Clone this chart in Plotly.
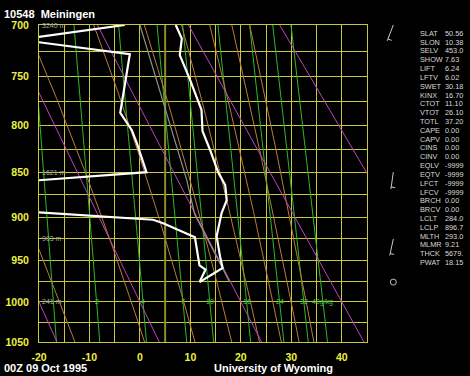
import numpy as np
import plotly.graph_objects as go

# ---------------- data ----------------
station_title = "10548\u00a0\u00a0Meiningen"
time_label = "00Z 09 Oct 1995"
source_label = "University of Wyoming"

temp_p = [700, 713, 729, 753, 784, 806, 826, 850, 864, 881, 895, 922, 946, 959, 976]
temp_t = [7.1, 8.3, 7.9, 9.9, 12.2, 12.4, 13.9, 15.5, 16.9, 17.2, 16.2, 15.2, 15.9, 16.4, 11.8]

dewp_p = [700, 714, 728, 751, 774, 787, 805, 819, 850, 878, 903, 907, 923, 956, 961, 976]
dewp_t = [-3.0, -24.0, -2.0, -2.8, -3.6, -3.9, -1.6, -0.6, 1.3, -66.0, 2.6, 4.6, 10.9, 11.8, 13.0, 11.8]

parcel_p = [976, 896.7, 859, 800, 750, 700]
parcel_t = [17.8, 10.85, 9.3, 6.0, 3.0, 0.0]

pres_ticks = [700, 750, 800, 850, 900, 950, 1000, 1050]
temp_ticks = [-20, -10, 0, 10, 20, 30, 40]

dry_theta_c = [-20, 0, 20, 40, 60]
moist_theta_e = [260, 280, 300, 320, 340, 360, 380, 400]
mix_ratios = [1, 2, 4, 7, 10, 16, 24, 32, 40]
mix_labels = ["", "2", "4", "7", "10", "16", "24", "32", "40g/kg"]

height_p = [700, 850, 925, 1000]
height_m = ["3240 m", "1621 m", "903 m", "241 m"]

wind_p = [700, 850, 925]
wind_dir = [201, 188, 192]
wind_kt = [5, 5, 5]
calm_p = [976]

stat_names = ["SLAT", "SLON", "SELV", "SHOW", "LIFT", "LFTV", "SWET", "KINX", "CTOT",
              "VTOT", "TOTL", "CAPE", "CAPV", "CINS", "CINV", "EQLV", "EQTV", "LFCT",
              "LFCV", "BRCH", "BRCV", "LCLT", "LCLP", "MLTH", "MLMR", "THCK", "PWAT"]
stat_values = ["50.56", "10.38", "453.0", "7.63", "6.24", "6.02", "30.18", "16.70", "11.10",
               "26.10", "37.20", "0.00", "0.00", "0.00", "0.00", "-9999", "-9999", "-9999",
               "-9999", "0.00", "0.00", "284.0", "896.7", "293.0", "9.21", "5679.", "18.15"]

# ---------------- helpers ----------------
KAPPA = 0.286
def sp(p):
    return np.power(np.asarray(p, dtype=float), KAPPA)

W, H = 470, 376
ML, MR, MT, MB = 39, 0, 25, 34
PW, PH = W - ML - MR, H - MT - MB
def xpaper(px):
    return (px - ML) / PW
def ypaper(py):
    return 1 - (py - MT) / PH

S_TOP, S_BOT = float(sp(700)), float(sp(1050))
S_PER_PX = (S_BOT - S_TOP) / PH

GRID = "#c8c83c"
TICKC = "#f0f040"
GREEN = "#2cb82c"
BROWN = "#b87c3c"
MAGENTA = "#c040c8"
FONT = "Liberation Sans, Arial, sans-serif"

pgrid = np.linspace(700, 1050, 141)

def esat(tk):
    return 6.112 * np.exp(17.67 * (tk - 273.15) / (tk - 29.65))

def theta_e(tk, p):
    es = esat(tk)
    ws = 0.622 * es / (p - es)
    return tk * (1000.0 / p) ** KAPPA * np.exp(2.5e6 * ws / (1004.0 * tk))

def moist_temp(te, p):
    lo = np.full_like(p, 180.0)
    hi = np.full_like(p, 340.0)
    for _ in range(60):
        mid = 0.5 * (lo + hi)
        f = theta_e(mid, p) > te
        hi = np.where(f, mid, hi)
        lo = np.where(f, lo, mid)
    return 0.5 * (lo + hi) - 273.15

def mix_temp(w, p):
    e = w * p / (622.0 + w)
    l = np.log(e / 6.112)
    return 243.5 * l / (17.67 - l)

fig = go.Figure()

# thick olive isotherm
fig.add_trace(go.Scatter(x=[5, 5], y=sp([700, 1050]), mode="lines",
                         line=dict(color="#8c8c2c", width=2), hoverinfo="skip", showlegend=False))

# mixing ratio lines
for w in mix_ratios:
    fig.add_trace(go.Scatter(x=mix_temp(w, pgrid), y=sp(pgrid), mode="lines",
                             line=dict(color=GREEN, width=1), hoverinfo="skip", showlegend=False))
# moist adiabats
for te in moist_theta_e:
    fig.add_trace(go.Scatter(x=moist_temp(te, pgrid), y=sp(pgrid), mode="lines",
                             line=dict(color=BROWN, width=1), hoverinfo="skip", showlegend=False))
# dry adiabats
for th in dry_theta_c:
    tt = (th + 273.15) * (pgrid / 1000.0) ** KAPPA - 273.15
    fig.add_trace(go.Scatter(x=tt, y=sp(pgrid), mode="lines",
                             line=dict(color=MAGENTA, width=1), hoverinfo="skip", showlegend=False))
# parcel
fig.add_trace(go.Scatter(x=parcel_t, y=sp(parcel_p), mode="lines",
                         line=dict(color="#909090", width=1.2), hoverinfo="skip", showlegend=False))
# profiles
fig.add_trace(go.Scatter(x=dewp_t, y=sp(dewp_p), mode="lines",
                         line=dict(color="white", width=2.2), showlegend=False))
fig.add_trace(go.Scatter(x=temp_t, y=sp(temp_p), mode="lines",
                         line=dict(color="white", width=2.2), showlegend=False))

# mixing ratio labels at 1000 hPa
for w, lab in zip(mix_ratios, mix_labels):
    if lab:
        fig.add_annotation(x=float(mix_temp(w, 1000.0)), y=float(sp(1000)), text=lab,
                           showarrow=False, font=dict(size=7, color="#48c848", family=FONT),
                           xanchor="center", yanchor="middle")

# height labels
for p, lab in zip(height_p, height_m):
    fig.add_annotation(x=-20, y=float(sp(p)), text=lab, showarrow=False, xshift=1,
                       font=dict(size=7, color="#a8a8a8", family=FONT),
                       xanchor="left", yanchor="middle")

# wind barbs on side axis (x2 in pixel units)
BX = 393.3
STAFF = 17.0
bx, by = [], []
for p, d, v in zip(wind_p, wind_dir, wind_kt):
    r = np.radians(d)
    ux, uy = np.sin(r), -np.cos(r)          # screen px, y down
    s0 = float(sp(p))
    ex, ey = BX + STAFF * ux, s0 + STAFF * uy * S_PER_PX
    bx += [BX, ex, None]
    by += [s0, ey, None]
    n_half = int(round(v / 5.0))
    for k in range(n_half):
        f = 0.88 - 0.15 * k
        px0, py0 = BX + STAFF * f * ux, STAFF * f * uy
        plen = 4.0
        qx, qy = uy, -ux
        bx += [px0, px0 + plen * qx, None]
        by += [s0 + py0 * S_PER_PX, s0 + (py0 + plen * qy) * S_PER_PX, None]
fig.add_trace(go.Scatter(x=bx, y=by, mode="lines", xaxis="x2", yaxis="y2",
                         line=dict(color="#c8c8c8", width=1), hoverinfo="skip", showlegend=False))
fig.add_trace(go.Scatter(x=[BX] * len(calm_p), y=sp(calm_p), mode="markers", xaxis="x2", yaxis="y2",
                         marker=dict(symbol="circle-open", size=6, color="#c0c0c0", line=dict(width=1)),
                         hoverinfo="skip", showlegend=False))

# stats block
for i, (n, v) in enumerate(zip(stat_names, stat_values)):
    yy = ypaper(33.3 + i * 8.82)
    fig.add_annotation(x=xpaper(417.5), y=yy, xref="paper", yref="paper", text=n, showarrow=False,
                       xanchor="left", yanchor="middle", font=dict(size=7.3, color="#d8d8d8", family=FONT))
    fig.add_annotation(x=xpaper(442.5), y=yy, xref="paper", yref="paper", text=v, showarrow=False,
                       xanchor="left", yanchor="middle", font=dict(size=7.3, color="#d8d8d8", family=FONT))

# titles
fig.add_annotation(x=xpaper(2), y=ypaper(13.5), xref="paper", yref="paper", text=station_title,
                   showarrow=False, xanchor="left", yanchor="middle",
                   font=dict(size=11, color="white", family=FONT, weight="bold"))
fig.add_annotation(x=xpaper(2), y=ypaper(367.5), xref="paper", yref="paper", text=time_label,
                   showarrow=False, xanchor="left", yanchor="middle",
                   font=dict(size=11, color="white", family=FONT, weight="bold"))
fig.add_annotation(x=xpaper(273), y=ypaper(367.5), xref="paper", yref="paper", text=source_label,
                   showarrow=False, xanchor="center", yanchor="middle",
                   font=dict(size=11, color="white", family=FONT, weight="bold"))

xt = list(range(-20, 46, 5))
yt = list(range(700, 1051, 25))
fig.update_layout(
    width=W, height=H,
    margin=dict(l=ML, r=MR, t=MT, b=MB, pad=0),
    paper_bgcolor="black", plot_bgcolor="black",
    showlegend=False,
    xaxis=dict(domain=[0, 328 / PW], range=[-20, 45], tickvals=xt,
               ticktext=[str(v) if v in temp_ticks else "" for v in xt],
               showgrid=True, gridcolor=GRID, gridwidth=1, zeroline=False,
               showline=True, mirror=True, linecolor=GRID, linewidth=1,
               ticks="outside", ticklen=5, tickcolor="black", automargin=False,
               tickfont=dict(size=10.5, color=TICKC, family=FONT, weight="bold")),
    yaxis=dict(domain=[0, 1], range=[S_BOT, S_TOP], tickvals=sp(yt),
               ticktext=[str(v) if v in pres_ticks else "" for v in yt],
               showgrid=True, gridcolor=GRID, gridwidth=1, zeroline=False,
               showline=True, mirror=True, linecolor=GRID, linewidth=1,
               ticks="outside", ticklen=7, tickcolor="black", automargin=False,
               tickfont=dict(size=10.5, color=TICKC, family=FONT, weight="bold")),
    xaxis2=dict(domain=[xpaper(375), xpaper(411)], range=[375, 411], visible=False, anchor="y2"),
    yaxis2=dict(domain=[0, 1], range=[S_BOT, S_TOP], visible=False, anchor="x2"),
)

fig.write_html("out.html", config={"displayModeBar": False},
               post_script="document.body.style.margin='0px';")
